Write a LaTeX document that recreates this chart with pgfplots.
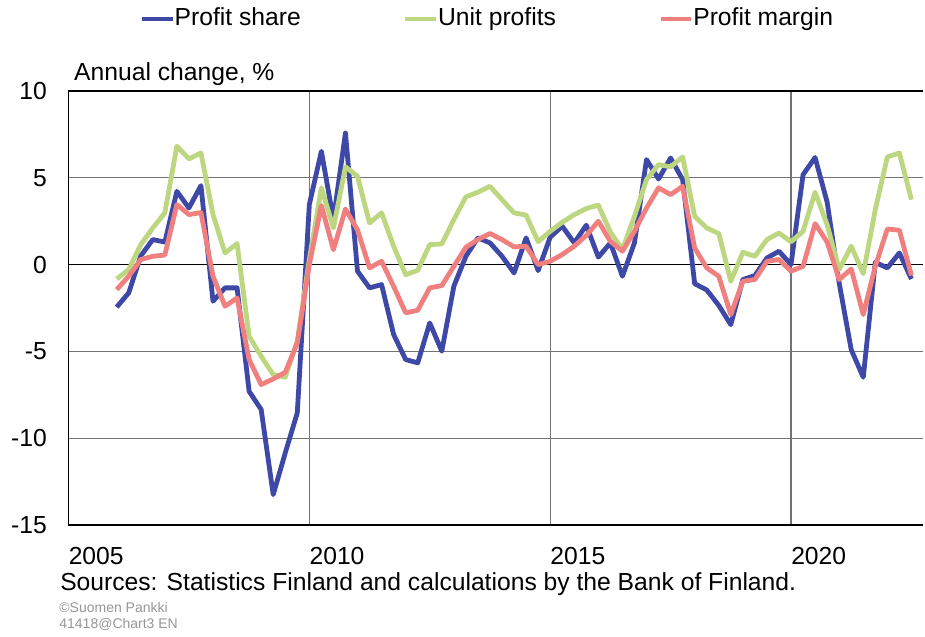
\documentclass[border=0pt]{standalone}
\usepackage{fontspec}
\setmainfont{Liberation Sans}
\usepackage{pgfplots}
\pgfplotsset{compat=1.18}
\definecolor{cblue}{RGB}{62,72,166}
\definecolor{cgreen}{RGB}{189,214,128}
\definecolor{cpink}{RGB}{240,128,128}
\definecolor{cgrid}{RGB}{115,115,115}
\definecolor{ctext}{RGB}{150,150,150}

\pgfplotstableread{
x blue green pink
2006.00 -2.45 -0.83 -1.44
2006.25 -1.63 -0.29 -0.67
2006.50 0.50 1.15 0.29
2006.75 1.44 2.11 0.48
2007.00 1.30 2.98 0.55
2007.25 4.22 6.82 3.46
2007.50 3.26 6.09 2.88
2007.75 4.55 6.43 3.00
2008.00 -2.11 2.88 -0.67
2008.25 -1.34 0.67 -2.40
2008.50 -1.34 1.21 -1.92
2008.75 -7.30 -4.13 -5.47
2009.00 -8.35 -5.28 -6.91
2009.25 -13.25 -6.34 -6.59
2009.50 -10.85 -6.49 -6.20
2009.75 -8.54 -4.40 -4.51
2010.00 3.46 0.30 0.00
2010.25 6.53 4.42 3.40
2010.50 2.59 2.11 0.86
2010.75 7.58 5.63 3.20
2011.00 -0.38 5.09 2.00
2011.25 -1.34 2.40 -0.19
2011.50 -1.15 2.98 0.19
2011.75 -4.03 1.06 -1.25
2012.00 -5.47 -0.58 -2.78
2012.25 -5.66 -0.33 -2.63
2012.50 -3.36 1.15 -1.34
2012.75 -4.99 1.19 -1.21
2013.00 -1.25 2.59 -0.10
2013.25 0.48 3.90 1.00
2013.50 1.54 4.17 1.44
2013.75 1.25 4.51 1.79
2014.00 0.48 3.74 1.44
2014.25 -0.48 2.98 1.02
2014.50 1.54 2.85 1.06
2014.75 -0.35 1.32 0.00
2015.00 1.58 1.92 0.19
2015.25 2.21 2.44 0.58
2015.50 1.25 2.88 1.06
2015.75 2.27 3.23 1.68
2016.00 0.43 3.43 2.50
2016.25 1.25 1.87 1.34
2016.50 -0.67 0.87 0.77
2016.75 1.25 2.78 1.92
2017.00 6.05 4.90 3.26
2017.25 4.93 5.76 4.42
2017.50 6.14 5.63 4.03
2017.75 4.90 6.20 4.51
2018.00 -1.10 2.78 0.96
2018.25 -1.46 2.11 -0.19
2018.50 -2.35 1.79 -0.67
2018.75 -3.46 -0.96 -2.88
2019.00 -0.86 0.71 -0.96
2019.25 -0.63 0.48 -0.86
2019.50 0.38 1.44 0.19
2019.75 0.77 1.82 0.29
2020.00 0.00 1.31 -0.38
2020.25 5.18 1.92 -0.10
2020.50 6.17 4.17 2.36
2020.75 3.60 2.30 1.30
2021.00 -1.06 -0.29 -0.86
2021.25 -4.90 1.06 -0.25
2021.50 -6.49 -0.52 -2.88
2021.75 0.13 3.17 -0.10
2022.00 -0.19 6.20 2.05
2022.25 0.67 6.43 1.98
2022.50 -0.83 3.74 -0.63
}\datatable

\begin{document}
\begin{tikzpicture}[x=1pt,y=1pt,font=\fontsize{18.5}{22}\selectfont]
\begin{axis}[
  at={(51.375pt,83.25pt)}, anchor=south west,
  scale only axis, width=640.5pt, height=325.5pt,
  xmin=2005, xmax=2022.73, ymin=-15, ymax=10,
  axis line style={draw=none},
  xtick={2005,2010,2015,2020},
  xticklabels={2005,2010,2015,2020},
  ytick={-15,-10,-5,0,5,10},
  major tick length=0pt,
  /pgf/number format/assume math mode=true,
  xticklabel style={anchor=west, inner sep=0pt, yshift=-23.25pt},
  yticklabel style={anchor=east, inner sep=0pt, xshift=-16pt},
  grid=major,
  major grid style={cgrid, line width=1pt},
  clip=false,
  legend columns=3,
  legend style={at={(rel axis cs:0.0837,1.1682)}, anchor=west, draw=none, fill=none,
    inner sep=0pt, outer sep=0pt, nodes={inner sep=0pt, anchor=base west},
    /tikz/every even column/.append style={column sep=77pt}},
  legend image code/.code={\draw[#1, line width=3pt] (0pt,5.5pt) -- (23pt,5.5pt);},
  every axis plot/.append style={line width=3.6pt, line join=round},
]
\draw[black, line width=1.3pt] (rel axis cs:0,0) -- (rel axis cs:1,0);
\draw[black, line width=1.3pt] (rel axis cs:0,1) -- (rel axis cs:1,1);
\draw[black, line width=1.3pt] (rel axis cs:0,0) -- (rel axis cs:0,1);
\draw[black, line width=1.3pt] (axis cs:2005,0) -- (axis cs:2022.73,0);
\addplot[cblue] table[x=x, y=blue] {\datatable};
\addlegendentry{Profit share}
\addplot[cgreen] table[x=x, y=green] {\datatable};
\addlegendentry{Unit profits}
\addplot[cpink] table[x=x, y=pink] {\datatable};
\addlegendentry{Profit margin}
\node[anchor=base west, inner sep=0pt] at (rel axis cs:0.0064,1.0253) {Annual change, \%};
\node[anchor=base west, inner sep=0pt] at (rel axis cs:-0.00996,-0.152) {Sources: Statistics Finland and calculations by the Bank of Finland.};
\node[anchor=base west, inner sep=0pt, text=ctext, font=\fontsize{10.5}{12}\selectfont] at (rel axis cs:-0.011,-0.2005) {©Suomen Pankki};
\node[anchor=base west, inner sep=0pt, text=ctext, font=\fontsize{10.5}{12}\selectfont] at (rel axis cs:-0.011,-0.2396) {41418@Chart3 EN};
\end{axis}
\pgfresetboundingbox
\path (0pt,0pt) rectangle (693.75pt,477pt);
\end{tikzpicture}
\end{document}
